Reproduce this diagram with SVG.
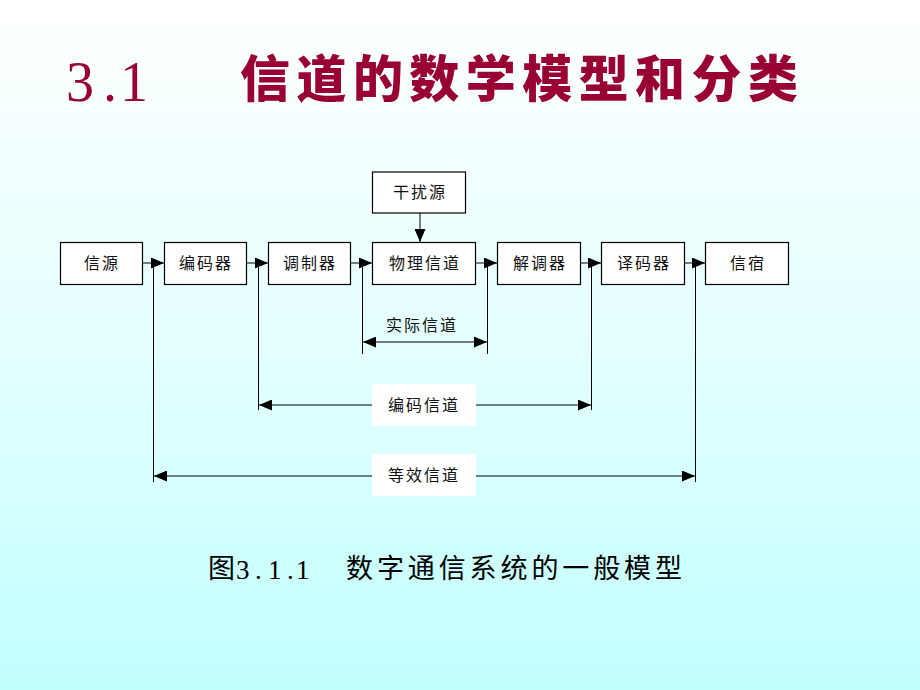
<svg xmlns="http://www.w3.org/2000/svg" width="920" height="690" viewBox="0 0 920 690">
<defs>
<linearGradient id="bg" x1="0" y1="0" x2="0" y2="1">
<stop offset="0" stop-color="#ffffff"/>
<stop offset="0.5" stop-color="#e4ffff"/>
<stop offset="1" stop-color="#c2ffff"/>
</linearGradient>
<marker id="ah" viewBox="0 0 13 11" refX="13" refY="5.5" markerWidth="13" markerHeight="11" markerUnits="userSpaceOnUse" orient="auto-start-reverse">
<path d="M0,0 L13,5.5 L0,11 Z" fill="#000"/>
</marker>
<style>
.box{fill:#fff;stroke:#000;stroke-width:1.2}
.lbl{font-family:"Noto Sans CJK SC",sans-serif;font-size:16px;fill:#111;text-anchor:middle;letter-spacing:2px}
.ln{stroke:#000;stroke-width:1;fill:none}
.arr{stroke:#000;stroke-width:1;fill:none;marker-end:url(#ah)}
.darr{stroke:#000;stroke-width:1;fill:none;marker-start:url(#ah);marker-end:url(#ah)}
.wb{fill:#fff;stroke:none}
</style>
</defs>
<rect x="0" y="0" width="920" height="690" fill="url(#bg)"/>
<g id="title">
<text font-family="Liberation Serif,serif" font-size="56" fill="#990033" y="101"><tspan x="66">3</tspan><tspan x="103">.</tspan><tspan x="120">1</tspan></text>
<text x="240" y="97" font-family="Noto Sans CJK SC,sans-serif" font-weight="900" font-size="50" fill="#990033" textLength="558" lengthAdjust="spacing">信道的数学模型和分类</text>
</g>
<g id="connectors">
<line class="arr" x1="142" y1="263" x2="164" y2="263"/>
<line class="arr" x1="246" y1="263" x2="268" y2="263"/>
<line class="arr" x1="350" y1="263" x2="372" y2="263"/>
<line class="arr" x1="475" y1="263" x2="497" y2="263"/>
<line class="arr" x1="580" y1="263" x2="601" y2="263"/>
<line class="arr" x1="684" y1="263" x2="705" y2="263"/>
<line class="arr" x1="420" y1="213" x2="420" y2="242"/>
<line class="ln" x1="153.5" y1="263" x2="153.5" y2="482"/>
<line class="ln" x1="258.5" y1="263" x2="258.5" y2="410"/>
<line class="ln" x1="362.5" y1="263" x2="362.5" y2="354"/>
<line class="ln" x1="487.5" y1="263" x2="487.5" y2="354"/>
<line class="ln" x1="591.5" y1="263" x2="591.5" y2="410"/>
<line class="ln" x1="695.5" y1="263" x2="695.5" y2="482"/>
<line class="darr" x1="363" y1="342" x2="487" y2="342"/>
<line class="darr" x1="259" y1="405" x2="591" y2="405"/>
<line class="darr" x1="154" y1="476" x2="695" y2="476"/>
</g>
<g id="n-ganrao"><rect class="box" x="372.5" y="172" width="93" height="41"/><text class="lbl" x="420" y="198">干扰源</text></g>
<g id="n-xinyuan"><rect class="box" x="60.5" y="242.5" width="82" height="42"/><text class="lbl" x="102" y="269">信源</text></g>
<g id="n-bianma"><rect class="box" x="164.5" y="242.5" width="82" height="42"/><text class="lbl" x="206" y="269">编码器</text></g>
<g id="n-tiaozhi"><rect class="box" x="268.5" y="242.5" width="82" height="42"/><text class="lbl" x="310" y="269">调制器</text></g>
<g id="n-wuli"><rect class="box" x="372.5" y="242.5" width="103" height="42"/><text class="lbl" x="425" y="269">物理信道</text></g>
<g id="n-jietiao"><rect class="box" x="497.5" y="242.5" width="83" height="42"/><text class="lbl" x="540" y="269">解调器</text></g>
<g id="n-yima"><rect class="box" x="601.5" y="242.5" width="83" height="42"/><text class="lbl" x="644" y="269">译码器</text></g>
<g id="n-xinsu"><rect class="box" x="705.5" y="242.5" width="83" height="42"/><text class="lbl" x="748" y="269">信宿</text></g>
<g id="l-shiji"><text class="lbl" x="422" y="331">实际信道</text></g>
<g id="l-bianma"><rect class="wb" x="372" y="384" width="104" height="42"/><text class="lbl" x="424" y="411">编码信道</text></g>
<g id="l-dengxiao"><rect class="wb" x="372" y="454" width="104" height="42"/><text class="lbl" x="424" y="481">等效信道</text></g>
<g id="caption">
<text font-family="Noto Sans CJK SC,sans-serif" font-size="27" fill="#000" x="208" y="578">图</text>
<text font-family="Liberation Serif,serif" font-size="27" fill="#000" y="579"><tspan x="236">3</tspan><tspan x="255">.</tspan><tspan x="268">1</tspan><tspan x="287">.</tspan><tspan x="296">1</tspan></text>
<text font-family="Noto Sans CJK SC,sans-serif" font-size="27" fill="#000" x="346" y="578" textLength="336" lengthAdjust="spacing">数字通信系统的一般模型</text>
</g>
</svg>
